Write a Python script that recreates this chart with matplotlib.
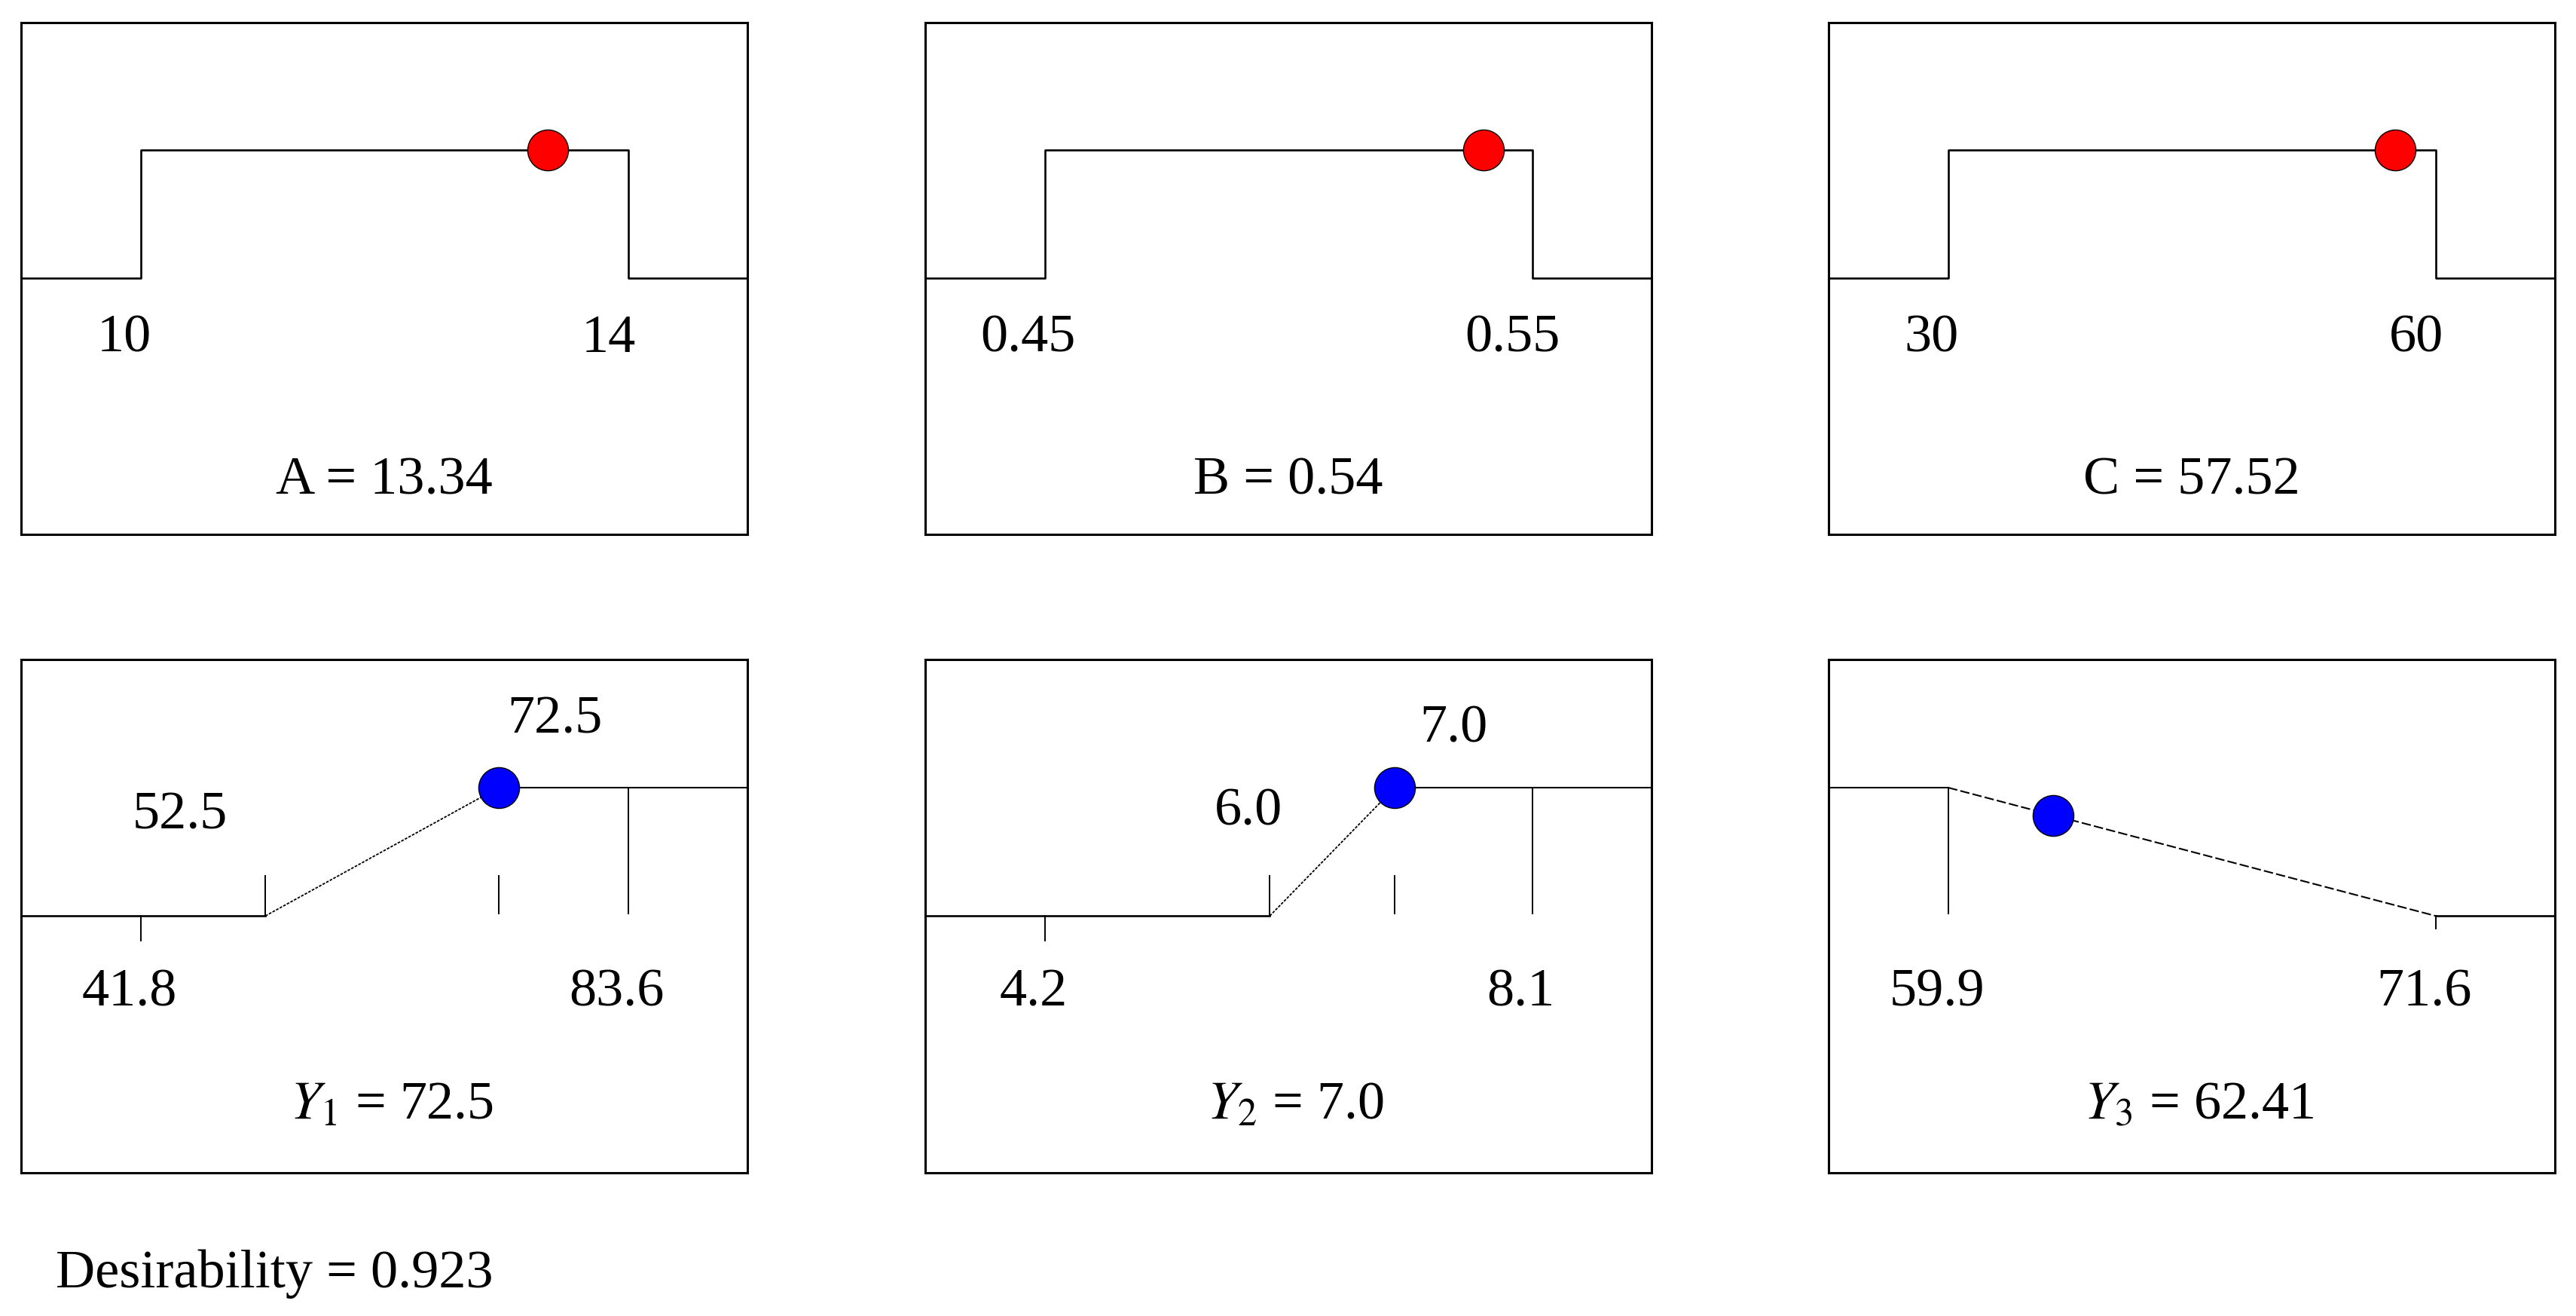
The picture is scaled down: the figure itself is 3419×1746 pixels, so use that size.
import matplotlib
matplotlib.use('Agg')
import matplotlib.pyplot as plt

plt.rcParams['font.family'] = ['Liberation Serif', 'DejaVu Serif']
plt.rcParams['mathtext.fontset'] = 'stix'

# factors (top row)
factor_names = ['A', 'B', 'C']
factor_low = [10, 0.45, 30]
factor_high = [14, 0.55, 60]
factor_opt = [13.34, 0.54, 57.52]
factor_low_txt = ['10', '0.45', '30']
factor_high_txt = ['14', '0.55', '60']
factor_opt_txt = ['13.34', '0.54', '57.52']

# responses (bottom row)
resp_names = ['Y_1', 'Y_2', 'Y_3']
resp_goal = ['max', 'max', 'min']
resp_min = [41.8, 4.2, 59.9]
resp_max = [83.6, 8.1, 71.6]
resp_lower = [52.5, 6.0, 59.9]
resp_upper = [72.5, 7.0, 71.6]
resp_value = [72.5, 7.0, 62.41]
resp_d = [1.0, 1.0, 0.785]
resp_min_txt = ['41.8', '4.2', '59.9']
resp_max_txt = ['83.6', '8.1', '71.6']
resp_lower_txt = ['52.5', '6.0', '']
resp_upper_txt = ['72.5', '7.0', '']
resp_value_txt = ['72.5', '7.0', '62.41']

desirability = '0.923'

FS = 52
col_left = [0.0082, 0.3592, 0.7099]
col_w = 0.282

fig = plt.figure(figsize=(34.19, 17.46), dpi=100)


def setup(ax, lo, hi):
    pad = 0.245 * (hi - lo)
    ax.set_xlim(lo - pad, hi + pad)
    ax.set_ylim(-2, 2)
    ax.set_xticks([])
    ax.set_yticks([])
    for s in ax.spines.values():
        s.set_linewidth(2.2)
    return lo - pad, hi + pad


def label(ax, txt, x, y, dx):
    ax.annotate(txt, (x, y), xytext=(dx, 0), textcoords='offset pixels',
                ha='center', va='center', fontsize=FS)


# top row: factor settings
for i in range(3):
    ax = fig.add_axes([col_left[i], 0.594, col_w, 0.389])
    lo, hi = factor_low[i], factor_high[i]
    x0, x1 = setup(ax, lo, hi)
    ax.plot([x0, lo, lo, hi, hi, x1], [0, 0, 1, 1, 0, 0], color='black', lw=1.9)
    ax.plot(factor_opt[i], 1, 'o', ms=39, mfc='red', mec='black', mew=1, zorder=5)
    label(ax, factor_low_txt[i], lo, -0.47, -22)
    label(ax, factor_high_txt[i], hi, -0.47, -26)
    ax.text(0.5, 0.105, f'{factor_names[i]} = {factor_opt_txt[i]}',
            transform=ax.transAxes, ha='center', va='center', fontsize=FS)

# bottom row: responses
lower_off = [(-113, 0.78), (-28, 0.81), (0, 0)]
upper_off = [(75, 1.53), (78, 1.46), (0, 0)]
for i in range(3):
    ax = fig.add_axes([col_left[i], 0.109, col_w, 0.390])
    mn, mx = resp_min[i], resp_max[i]
    lo, up = resp_lower[i], resp_upper[i]
    x0, x1 = setup(ax, mn, mx)
    k = dict(color='black')
    if resp_goal[i] == 'max':
        ax.plot([x0, lo], [0, 0], lw=1.9, **k)
        ax.plot([lo, up], [0, 1], lw=1.3, ls=(0, (2, 1)), **k)
        ax.plot([up, x1], [1, 1], lw=1.5, **k)
        ax.plot([mn, mn], [0, -0.19], lw=1.4, **k)
        ax.plot([lo, lo], [0, 0.31], lw=1.4, **k)
        ax.plot([resp_value[i]] * 2, [0.02, 0.31], lw=1.4, **k)
        ax.plot([mx, mx], [0.02, 1], lw=1.4, **k)
        label(ax, resp_lower_txt[i], lo, lower_off[i][1], lower_off[i][0])
        label(ax, resp_upper_txt[i], up, upper_off[i][1], upper_off[i][0])
    else:
        ax.plot([x0, lo], [1, 1], lw=1.5, **k)
        ax.plot([lo, lo], [0.02, 1], lw=1.4, **k)
        ax.plot([lo, up], [1, 0], lw=1.5, ls=(0, (6, 2)), **k)
        ax.plot([up, x1], [0, 0], lw=1.9, **k)
        ax.plot([up, up], [0, -0.1], lw=1.4, **k)
    ax.plot(resp_value[i], resp_d[i], 'o', ms=39, mfc='blue', mec='black',
            mew=1, zorder=5)
    label(ax, resp_min_txt[i], mn, -0.6, -15)
    label(ax, resp_max_txt[i], mx, -0.6, -15)
    ax.text(0.51, 0.131, f'${resp_names[i]}$ = {resp_value_txt[i]}',
            transform=ax.transAxes, ha='center', va='center', fontsize=FS)

fig.text(0.0216, 0.032, f'Desirability = {desirability}', ha='left',
         va='center', fontsize=FS)

fig.savefig('out.png', dpi=100)
